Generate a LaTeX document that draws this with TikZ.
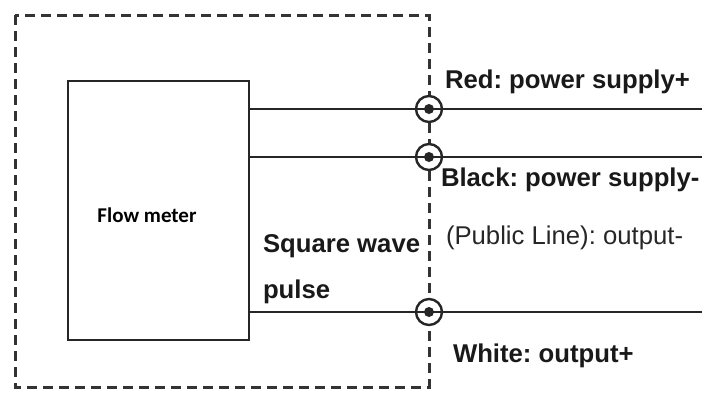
\documentclass[tikz,border=0pt]{standalone}
\usepackage{fontspec}
\setmainfont{Liberation Sans}
\newfontfamily\labelfont{Carlito}
\usepackage{tikz}
\frenchspacing

\begin{document}
\begin{tikzpicture}[x=1pt, y=-1pt,
  every node/.style={inner sep=0pt, outer sep=0pt},
  wire/.style={line width=2.4pt, color=black!85},
  terminal/.style={circle, draw=black!85, line width=2.4pt, minimum size=26pt, fill=white},
  dot/.style={circle, fill=black!85, minimum size=10pt},
  txt/.style={anchor=base west, font=\fontsize{25.7}{28}\selectfont\bfseries, text=black!90},
  thintxt/.style={anchor=base west, font=\fontsize{25.7}{28}\selectfont, text=black!85}]
\useasboundingbox (0,0) rectangle (702,392);

% enclosure
\draw[line width=3pt, color=black!80, dash pattern=on 10pt off 6pt] (15,15) rectangle (429,387);

% meter box
\node[draw=black!85, line width=2.4pt, minimum width=181pt, minimum height=259pt] (meter) at (158.5,210.5) {};
\node[font=\labelfont\fontsize{21}{24}\selectfont\bfseries] (mlabel) at (147,215) {Flow meter};

% terminals and wire ends
\coordinate (r) at (702,109);
\coordinate (b) at (702,157);
\coordinate (w) at (702,312);
\draw[wire] (meter.east |- r) -- (r);
\draw[wire] (meter.east |- b) -- (b);
\draw[wire] (meter.east |- w) -- (w);
\node[terminal] (tr) at (429,109) {};
\node[terminal] (tb) at (429,157) {};
\node[terminal] (tw) at (429,312) {};
\node[dot] at (tr) {};
\node[dot] at (tb) {};
\node[dot] at (tw) {};
\draw[wire] (tr.west) -- (tr.east);
\draw[wire] (tb.west) -- (tb.east);
\draw[wire] (tw.west) -- (tw.east);

% labels
\node[txt] (red) at (445,88) {Red: power supply+};
\node[txt] (black) at (441,186) {Black: power supply-};
\node[thintxt] (public) at (446,244) {(Public Line): output-};
\node[txt] (white) at (453,362) {White: output+};
\node[txt] (square) at (263,252) {Square wave};
\node[txt] (pulse) at (263,298) {pulse};
\end{tikzpicture}
\end{document}
